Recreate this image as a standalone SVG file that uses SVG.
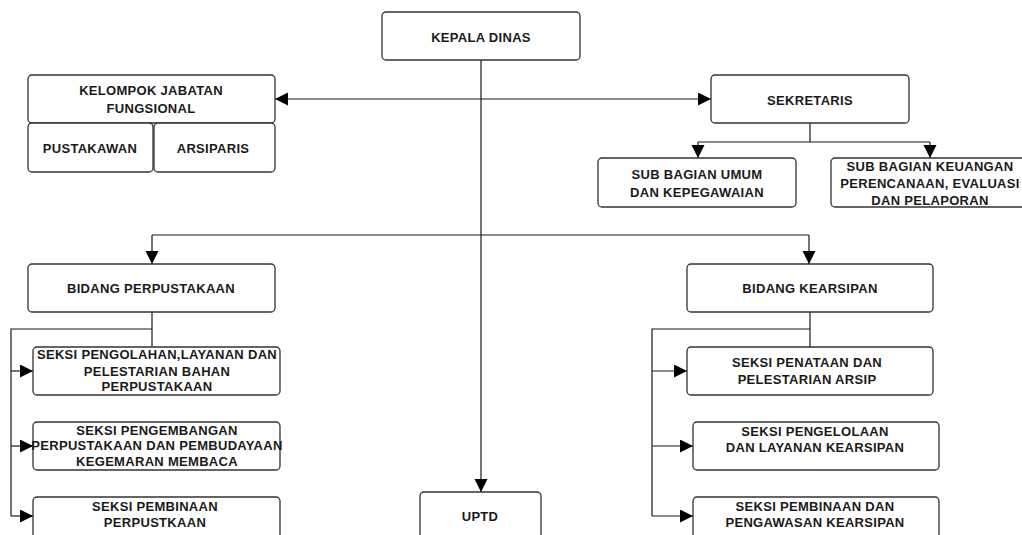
<svg xmlns="http://www.w3.org/2000/svg" width="1022" height="535" viewBox="0 0 1022 535">
<defs>
<style>
.box{fill:#fff;stroke:#333;stroke-width:1.3}
.t{font-family:"Liberation Sans",Arial,sans-serif;font-weight:bold;font-size:13px;letter-spacing:0.3px;fill:#1a1a1a;text-anchor:middle}
.c{fill:none;stroke:#1a1a1a;stroke-width:1.2}
</style>
<marker id="ah" markerUnits="userSpaceOnUse" markerWidth="14" markerHeight="14" refX="13" refY="6.5" orient="auto-start-reverse">
<path d="M0,0 L13,6.5 L0,13 z" fill="#000"/>
</marker>
</defs>
<rect width="1022" height="535" fill="#fff"/>
<g id="connectors">
<line class="c" x1="481" y1="60" x2="481" y2="492" marker-end="url(#ah)"/>
<line class="c" x1="275" y1="99" x2="711" y2="99" marker-start="url(#ah)" marker-end="url(#ah)"/>
<polyline class="c" points="810,123 810,142"/>
<line class="c" x1="698" y1="142" x2="930" y2="142"/>
<line class="c" x1="698" y1="142" x2="698" y2="158" marker-end="url(#ah)"/>
<line class="c" x1="930" y1="142" x2="930" y2="158" marker-end="url(#ah)"/>
<line class="c" x1="152" y1="235" x2="809" y2="235"/>
<line class="c" x1="152" y1="235" x2="152" y2="264" marker-end="url(#ah)"/>
<line class="c" x1="809" y1="235" x2="809" y2="264" marker-end="url(#ah)"/>
<line class="c" x1="152" y1="312" x2="152" y2="347"/>
<polyline class="c" points="152,329 11,329 11,516"/>
<line class="c" x1="11" y1="371" x2="33" y2="371" marker-end="url(#ah)"/>
<line class="c" x1="11" y1="446" x2="33" y2="446" marker-end="url(#ah)"/>
<line class="c" x1="11" y1="516" x2="33" y2="516" marker-end="url(#ah)"/>
<line class="c" x1="810" y1="312" x2="810" y2="347"/>
<polyline class="c" points="810,329 652,329 652,516"/>
<line class="c" x1="652" y1="371" x2="687" y2="371" marker-end="url(#ah)"/>
<line class="c" x1="652" y1="446" x2="693" y2="446" marker-end="url(#ah)"/>
<line class="c" x1="652" y1="516" x2="693" y2="516" marker-end="url(#ah)"/>
</g>
<g id="kepala-dinas"><rect class="box" x="382" y="12" width="198" height="48" rx="4"/><text class="t" x="481" y="41.5">KEPALA DINAS</text></g>
<g id="kelompok-jabatan"><rect class="box" x="28" y="75" width="247" height="48" rx="4"/><text class="t" x="151" y="95">KELOMPOK JABATAN</text><text class="t" x="151" y="113">FUNGSIONAL</text></g>
<g id="pustakawan"><rect class="box" x="28" y="123" width="125" height="49" rx="4"/><text class="t" x="90" y="152.5">PUSTAKAWAN</text></g>
<g id="arsiparis"><rect class="box" x="154" y="123" width="121" height="49" rx="4"/><text class="t" x="213" y="152.5">ARSIPARIS</text></g>
<g id="sekretaris"><rect class="box" x="711" y="75" width="198" height="48" rx="4"/><text class="t" x="810" y="104.5">SEKRETARIS</text></g>
<g id="sub-umum"><rect class="box" x="598" y="158" width="198" height="49" rx="4"/><text class="t" x="697" y="178.5">SUB BAGIAN UMUM</text><text class="t" x="697" y="196.5">DAN KEPEGAWAIAN</text></g>
<g id="sub-keuangan"><rect class="box" x="831" y="158" width="198" height="49" rx="4"/><text class="t" x="930" y="170.5">SUB BAGIAN KEUANGAN</text><text class="t" x="930" y="187.5">PERENCANAAN, EVALUASI</text><text class="t" x="930" y="204.5">DAN PELAPORAN</text></g>
<g id="bidang-perpustakaan"><rect class="box" x="28" y="264" width="247" height="48" rx="4"/><text class="t" x="151" y="292.5">BIDANG PERPUSTAKAAN</text></g>
<g id="bidang-kearsipan"><rect class="box" x="687" y="264" width="246" height="48" rx="4"/><text class="t" x="810" y="292.5">BIDANG KEARSIPAN</text></g>
<g id="seksi-pengolahan"><rect class="box" x="33" y="347" width="247" height="48" rx="4"/><text class="t" x="157" y="359">SEKSI PENGOLAHAN,LAYANAN DAN</text><text class="t" x="157" y="375.5">PELESTARIAN BAHAN</text><text class="t" x="157" y="391">PERPUSTAKAAN</text></g>
<g id="seksi-pengembangan"><rect class="box" x="33" y="422" width="247" height="48" rx="4"/><text class="t" x="157" y="434.5">SEKSI PENGEMBANGAN</text><text class="t" x="157" y="450">PERPUSTAKAAN DAN PEMBUDAYAAN</text><text class="t" x="157" y="465.5">KEGEMARAN MEMBACA</text></g>
<g id="seksi-pembinaan-perpus"><rect class="box" x="33" y="497" width="247" height="48" rx="4"/><text class="t" x="155" y="511">SEKSI PEMBINAAN</text><text class="t" x="155" y="527">PERPUSTKAAN</text></g>
<g id="uptd"><rect class="box" x="420" y="492" width="121" height="48" rx="4"/><text class="t" x="480" y="520.5">UPTD</text></g>
<g id="seksi-penataan"><rect class="box" x="687" y="347" width="246" height="48" rx="4"/><text class="t" x="807" y="367">SEKSI PENATAAN DAN</text><text class="t" x="807" y="384">PELESTARIAN ARSIP</text></g>
<g id="seksi-pengelolaan"><rect class="box" x="693" y="422" width="246" height="48" rx="4"/><text class="t" x="815" y="436">SEKSI PENGELOLAAN</text><text class="t" x="815" y="452">DAN LAYANAN KEARSIPAN</text></g>
<g id="seksi-pembinaan-arsip"><rect class="box" x="693" y="497" width="246" height="48" rx="4"/><text class="t" x="815" y="511">SEKSI PEMBINAAN DAN</text><text class="t" x="815" y="527">PENGAWASAN KEARSIPAN</text></g>
</svg>
